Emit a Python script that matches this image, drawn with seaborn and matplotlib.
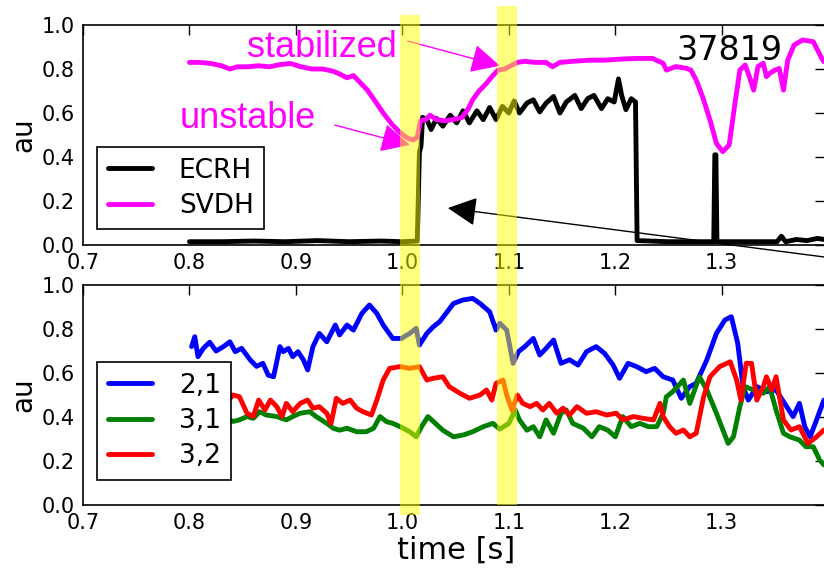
import matplotlib
matplotlib.use("Agg")
import matplotlib.pyplot as plt
from matplotlib.patches import Rectangle
import seaborn as sns

# ECRH power and SVDH signal (top panel)
ecrh_t = [0.800, 0.830, 0.860, 0.890, 0.920, 0.950, 0.980, 1.000, 1.014, 1.016, 1.0175, 1.019,
          1.023, 1.027, 1.032, 1.038, 1.045, 1.051, 1.057, 1.063, 1.070, 1.076, 1.082, 1.088,
          1.094, 1.100, 1.105, 1.110, 1.117, 1.123, 1.129, 1.135, 1.142, 1.148, 1.154, 1.162,
          1.168, 1.174, 1.180, 1.187, 1.193, 1.199, 1.203, 1.206, 1.210, 1.215, 1.219, 1.2205,
          1.250, 1.280, 1.2925, 1.2935, 1.2945, 1.2955, 1.330, 1.352, 1.356, 1.360, 1.370,
          1.380, 1.390, 1.396]
ecrh = [0.015, 0.015, 0.018, 0.015, 0.020, 0.015, 0.018, 0.015, 0.018, 0.42, 0.45, 0.58,
        0.57, 0.525, 0.575, 0.54, 0.59, 0.555, 0.61, 0.555, 0.61, 0.57, 0.625, 0.57,
        0.63, 0.60, 0.655, 0.60, 0.645, 0.66, 0.605, 0.645, 0.675, 0.60, 0.65, 0.68,
        0.62, 0.665, 0.68, 0.62, 0.665, 0.65, 0.755, 0.68, 0.615, 0.665, 0.65, 0.02,
        0.015, 0.015, 0.015, 0.41, 0.41, 0.015, 0.015, 0.015, 0.04, 0.015, 0.025,
        0.02, 0.03, 0.025]

svdh_t = [0.800, 0.810, 0.820, 0.830, 0.838, 0.845, 0.855, 0.865, 0.875, 0.885, 0.895, 0.905,
          0.915, 0.925, 0.935, 0.942, 0.948, 0.954, 0.960, 0.967, 0.975, 0.982, 0.990, 0.998,
          1.005, 1.010, 1.014, 1.017, 1.022, 1.026, 1.032, 1.040, 1.048, 1.056, 1.062, 1.066,
          1.072, 1.079, 1.085, 1.090, 1.096, 1.102, 1.108, 1.115, 1.125, 1.135, 1.141, 1.148,
          1.160, 1.175, 1.190, 1.205, 1.220, 1.235, 1.245, 1.248, 1.257, 1.267, 1.271, 1.276,
          1.282, 1.289, 1.295, 1.301, 1.307, 1.312, 1.317, 1.322, 1.326, 1.330, 1.334, 1.339,
          1.342, 1.345, 1.350, 1.354, 1.358, 1.362, 1.368, 1.376, 1.386, 1.394, 1.396]
svdh = [0.83, 0.83, 0.825, 0.815, 0.80, 0.81, 0.81, 0.815, 0.81, 0.82, 0.825, 0.81,
        0.80, 0.80, 0.79, 0.775, 0.76, 0.77, 0.74, 0.705, 0.65, 0.60, 0.55, 0.51,
        0.485, 0.477, 0.49, 0.565, 0.57, 0.59, 0.57, 0.565, 0.57, 0.58, 0.62, 0.66,
        0.70, 0.735, 0.77, 0.795, 0.80, 0.815, 0.83, 0.835, 0.83, 0.83, 0.81, 0.83,
        0.835, 0.84, 0.84, 0.845, 0.848, 0.848, 0.826, 0.795, 0.811, 0.803, 0.795, 0.75,
        0.674, 0.568, 0.462, 0.424, 0.455, 0.629, 0.795, 0.818, 0.765, 0.704, 0.811, 0.826,
        0.765, 0.78, 0.795, 0.803, 0.704, 0.841, 0.909, 0.932, 0.924, 0.848, 0.833]

# mode amplitudes (bottom panel)
m21_t = [0.802, 0.805, 0.808, 0.813, 0.819, 0.825, 0.832, 0.838, 0.843, 0.849, 0.857, 0.863,
         0.869, 0.874, 0.879, 0.885, 0.888, 0.893, 0.897, 0.902, 0.907, 0.911, 0.916, 0.922,
         0.929, 0.937, 0.941, 0.948, 0.954, 0.962, 0.969, 0.976, 0.982, 0.991, 0.999, 1.007,
         1.013, 1.016, 1.023, 1.029, 1.035, 1.041, 1.048, 1.057, 1.066, 1.073, 1.082, 1.088,
         1.0915, 1.098, 1.104, 1.109, 1.115, 1.123, 1.129, 1.135, 1.142, 1.149, 1.157, 1.165,
         1.173, 1.182, 1.190, 1.198, 1.204, 1.212, 1.220, 1.229, 1.237, 1.245, 1.254, 1.262,
         1.270, 1.276, 1.286, 1.295, 1.303, 1.309, 1.315, 1.320, 1.325, 1.333, 1.342, 1.351,
         1.361, 1.367, 1.373, 1.378, 1.383, 1.389, 1.396]
m21 = [0.72, 0.765, 0.674, 0.712, 0.74, 0.70, 0.72, 0.742, 0.697, 0.712, 0.66, 0.63,
       0.644, 0.59, 0.583, 0.72, 0.697, 0.712, 0.674, 0.697, 0.66, 0.614, 0.72, 0.78,
       0.742, 0.818, 0.773, 0.818, 0.795, 0.871, 0.909, 0.871, 0.818, 0.757, 0.757, 0.78,
       0.803, 0.727, 0.78, 0.81, 0.833, 0.871, 0.916, 0.932, 0.939, 0.916, 0.878, 0.795,
       0.826, 0.795, 0.644, 0.697, 0.72, 0.757, 0.682, 0.712, 0.75, 0.644, 0.66, 0.636,
       0.697, 0.72, 0.689, 0.636, 0.576, 0.644, 0.629, 0.606, 0.621, 0.583, 0.568, 0.485,
       0.538, 0.553, 0.66, 0.78, 0.841, 0.856, 0.735, 0.538, 0.477, 0.538, 0.515, 0.523,
       0.447, 0.402, 0.462, 0.356, 0.31, 0.386, 0.477]

m31_t = [0.800, 0.815, 0.830, 0.841, 0.847, 0.854, 0.860, 0.866, 0.872, 0.882, 0.891, 0.897,
         0.904, 0.913, 0.919, 0.929, 0.935, 0.941, 0.948, 0.957, 0.966, 0.973, 0.979, 0.985,
         0.991, 0.998, 1.007, 1.013, 1.018, 1.024, 1.031, 1.038, 1.048, 1.057, 1.066, 1.076,
         1.085, 1.0915, 1.100, 1.106, 1.110, 1.117, 1.123, 1.129, 1.135, 1.142, 1.149, 1.154,
         1.160, 1.170, 1.178, 1.185, 1.193, 1.200, 1.207, 1.215, 1.223, 1.231, 1.239, 1.245,
         1.248, 1.254, 1.264, 1.270, 1.279, 1.286, 1.295, 1.306, 1.311, 1.317, 1.322, 1.330,
         1.339, 1.345, 1.351, 1.358, 1.364, 1.373, 1.379, 1.386, 1.392, 1.396]
m31 = [0.40, 0.41, 0.40, 0.38, 0.387, 0.402, 0.394, 0.424, 0.409, 0.402, 0.387, 0.402,
       0.417, 0.424, 0.402, 0.371, 0.349, 0.34, 0.349, 0.333, 0.333, 0.349, 0.402, 0.379,
       0.371, 0.356, 0.333, 0.31, 0.356, 0.402, 0.371, 0.34, 0.31, 0.318, 0.333, 0.356,
       0.371, 0.345, 0.371, 0.432, 0.387, 0.34, 0.356, 0.31, 0.387, 0.326, 0.417, 0.432,
       0.371, 0.349, 0.31, 0.356, 0.34, 0.31, 0.402, 0.356, 0.371, 0.356, 0.356, 0.417,
       0.492, 0.515, 0.568, 0.462, 0.583, 0.523, 0.417, 0.28, 0.31, 0.447, 0.538, 0.523,
       0.508, 0.538, 0.432, 0.326, 0.31, 0.295, 0.265, 0.265, 0.204, 0.182]

m32_t = [0.800, 0.815, 0.830, 0.841, 0.847, 0.854, 0.860, 0.865, 0.871, 0.876, 0.882, 0.887,
         0.891, 0.897, 0.904, 0.911, 0.916, 0.922, 0.929, 0.933, 0.938, 0.944, 0.951, 0.957,
         0.963, 0.971, 0.976, 0.982, 0.988, 0.998, 1.007, 1.016, 1.023, 1.029, 1.038, 1.044,
         1.054, 1.063, 1.073, 1.079, 1.084, 1.088, 1.0945, 1.098, 1.103, 1.108, 1.113, 1.120,
         1.126, 1.132, 1.138, 1.145, 1.151, 1.157, 1.164, 1.173, 1.182, 1.192, 1.201, 1.207,
         1.217, 1.226, 1.236, 1.242, 1.245, 1.251, 1.257, 1.264, 1.270, 1.276, 1.283, 1.289,
         1.298, 1.308, 1.314, 1.318, 1.323, 1.328, 1.333, 1.339, 1.342, 1.347, 1.351, 1.358,
         1.365, 1.373, 1.381, 1.389, 1.396]
m32 = [0.45, 0.47, 0.44, 0.50, 0.492, 0.417, 0.402, 0.477, 0.432, 0.477, 0.447, 0.402,
       0.462, 0.424, 0.462, 0.477, 0.44, 0.447, 0.417, 0.371, 0.485, 0.462, 0.477, 0.44,
       0.424, 0.409, 0.477, 0.568, 0.621, 0.629, 0.621, 0.629, 0.568, 0.576, 0.583, 0.538,
       0.508, 0.485, 0.50, 0.523, 0.477, 0.553, 0.568, 0.50, 0.43, 0.50, 0.462, 0.447,
       0.462, 0.432, 0.462, 0.417, 0.44, 0.409, 0.447, 0.417, 0.424, 0.409, 0.417, 0.387,
       0.402, 0.394, 0.387, 0.462, 0.402, 0.356, 0.326, 0.341, 0.31, 0.326, 0.492, 0.583,
       0.629, 0.651, 0.568, 0.477, 0.644, 0.644, 0.477, 0.538, 0.583, 0.523, 0.583, 0.386,
       0.341, 0.356, 0.28, 0.31, 0.341]

x_ticks = [0.7, 0.8, 0.9, 1.0, 1.1, 1.2, 1.3]
y_ticks = [0.0, 0.2, 0.4, 0.6, 0.8, 1.0]

sns.set_theme(style="white")
plt.rcParams['font.family'] = ['DejaVu Sans']
plt.rcParams['text.color'] = 'black'
plt.rcParams['axes.labelcolor'] = 'black'

W, H = 824, 571
fig = plt.figure(figsize=(W / 100, H / 100), dpi=100)
ax1 = fig.add_axes([83 / W, 1 - 245 / H, 742 / W, 220 / H])
ax2 = fig.add_axes([83 / W, 1 - 505 / H, 742 / W, 220 / H])

lw = 3.5
sns.lineplot(x=ecrh_t, y=ecrh, ax=ax1, color='black', lw=lw, label='ECRH',
             estimator=None, sort=False)
sns.lineplot(x=svdh_t, y=svdh, ax=ax1, color='#ff00ff', lw=lw, label='SVDH',
             estimator=None, sort=False)
sns.lineplot(x=m21_t, y=m21, ax=ax2, color='#0000ff', lw=lw, label='2,1',
             estimator=None, sort=False)
sns.lineplot(x=m31_t, y=m31, ax=ax2, color='#008000', lw=lw, label='3,1',
             estimator=None, sort=False)
sns.lineplot(x=m32_t, y=m32, ax=ax2, color='#ff0000', lw=lw, label='3,2',
             estimator=None, sort=False)

for ax, ly in [(ax1, 0.445), (ax2, 0.65)]:
    ax.set_xlim(0.7, 1.397)
    ax.set_ylim(0, 1)
    ax.set_xticks(x_ticks)
    ax.set_yticks(y_ticks)
    ax.tick_params(direction='in', top=True, right=True, length=7, width=1,
                   labelsize=15, pad=6, colors='black')
    for s in ax.spines.values():
        s.set_color('black')
        s.set_linewidth(1.2)
    ax.set_ylabel('au', fontsize=20)
    ax.yaxis.set_label_coords(-0.062, 0.5)
    leg = ax.legend(loc='upper left', bbox_to_anchor=(0.0189, ly), borderaxespad=0,
                    fontsize=19, frameon=True, fancybox=False, edgecolor='black',
                    framealpha=1, handlelength=1.7, handletextpad=1.0,
                    labelspacing=0.35, borderpad=0.4)
    leg.get_frame().set_linewidth(1.2)
    for t in leg.get_texts():
        t.set_color('black')

ax2.set_xlabel('time [s]', fontsize=22)
ax2.xaxis.set_label_coords(0.503, -0.141)

# labels and arrows
ax1.text(0.854, 0.855, 'stabilized', color='#ff00ff', fontsize=26,
         family='Liberation Sans', va='baseline')
ax1.text(0.791, 0.532, 'unstable', color='#ff00ff', fontsize=26,
         family='Liberation Sans', va='baseline')
ax1.text(1.2577, 0.841, '37819', color='black', fontsize=24, va='baseline')

head = '-|>,head_length=0.9,head_width=0.45'
ax1.annotate('', xy=(1.0915, 0.815), xytext=(1.005, 0.927),
             arrowprops=dict(arrowstyle=head, color='#ff00ff', lw=1,
                             mutation_scale=20, shrinkA=0, shrinkB=0))
ax1.annotate('', xy=(1.007, 0.455), xytext=(0.9366, 0.545),
             arrowprops=dict(arrowstyle=head, color='#ff00ff', lw=1,
                             mutation_scale=20, shrinkA=0, shrinkB=0))
ax1.annotate('', xy=(1.0427, 0.168), xytext=(1.397, -0.055), annotation_clip=False,
             arrowprops=dict(arrowstyle=head, color='black', lw=1,
                             mutation_scale=20, shrinkA=0, shrinkB=0))

# yellow highlight bands across both panels
for x0, x1, y0, y1 in [(400, 420, 15, 515), (497, 517, 6, 505)]:
    fig.add_artist(Rectangle((x0 / W, 1 - y1 / H), (x1 - x0) / W, (y1 - y0) / H,
                             transform=fig.transFigure, facecolor='yellow',
                             alpha=0.5, edgecolor='none', zorder=5))

fig.savefig('out.png', dpi=100)
